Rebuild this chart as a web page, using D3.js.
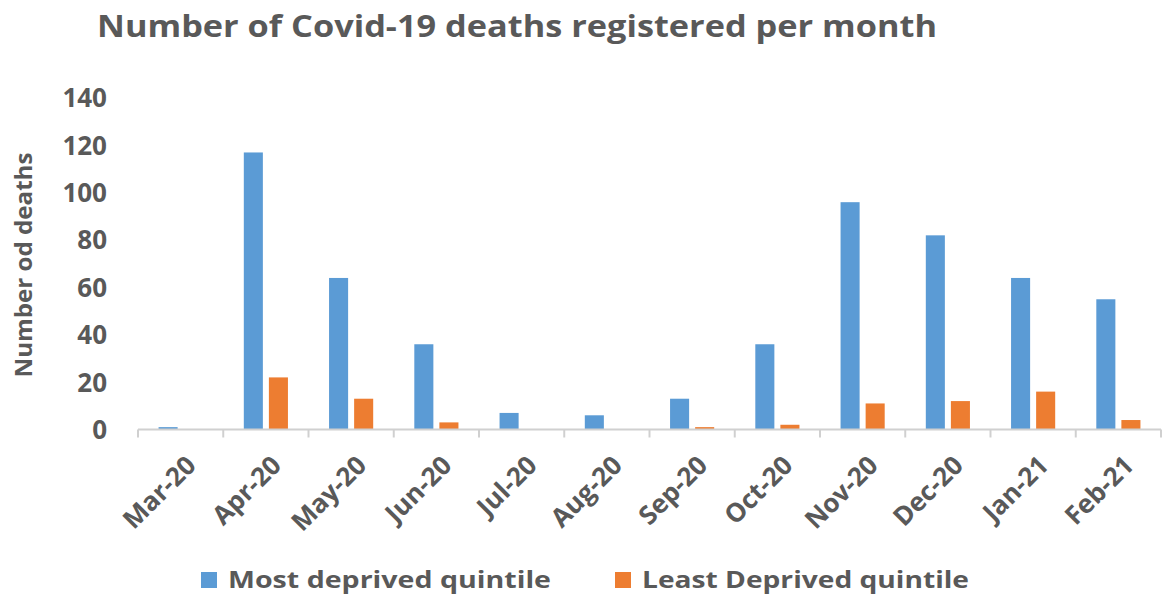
<!DOCTYPE html>
<html>
<head>
<meta charset="utf-8">
<script src="https://cdn.jsdelivr.net/npm/d3@7"></script>
<style>
  body { margin: 0; background: #fff; }
  text { font-family: "Open Sans", "Liberation Sans", sans-serif; font-weight: bold; fill: #595959; }
</style>
</head>
<body>
<svg></svg>
<script>
var width = 1166, height = 598;

// data
var months = ["Mar-20", "Apr-20", "May-20", "Jun-20", "Jul-20", "Aug-20",
              "Sep-20", "Oct-20", "Nov-20", "Dec-20", "Jan-21", "Feb-21"];
var mostDeprived  = [1, 117, 64, 36, 7, 6, 13, 36, 96, 82, 64, 55];
var leastDeprived = [0, 22, 13, 3, 0, 0, 1, 2, 11, 12, 16, 4];
var seriesNames = ["Most deprived quintile", "Least Deprived quintile"];
var colors = ["#5B9BD5", "#ED7D31"];
var yTicks = [0, 20, 40, 60, 80, 100, 120, 140];

var svg = d3.select("svg")
    .attr("width", width)
    .attr("height", height);

var x = d3.scaleBand()
    .domain(months)
    .range([138, 1161]);

var x1 = d3.scaleBand()
    .domain(seriesNames)
    .range([0, x.bandwidth()])
    .paddingInner(0.24)
    .paddingOuter(0.82);

var y = d3.scaleLinear()
    .domain([0, 140])
    .range([429.5, 98]);

// title
svg.append("text")
    .attr("x", 97)
    .attr("y", 37)
    .attr("font-size", 30)
    .attr("textLength", 840)
    .attr("lengthAdjust", "spacingAndGlyphs")
    .text("Number of Covid-19 deaths registered per month");

// y axis labels
svg.append("g")
    .selectAll("text")
    .data(yTicks)
    .join("text")
    .attr("x", 107)
    .attr("y", d => y(d))
    .attr("dy", "0.36em")
    .attr("text-anchor", "end")
    .attr("font-size", 26)
    .text(d => d);

svg.append("text")
    .attr("transform", "translate(32,265) rotate(-90)")
    .attr("text-anchor", "middle")
    .attr("font-size", 23)
    .attr("textLength", 225)
    .attr("lengthAdjust", "spacingAndGlyphs")
    .text("Number od deaths");

// bars
var rows = months.map((m, i) => ({month: m, values: [mostDeprived[i], leastDeprived[i]]}));

var group = svg.append("g")
    .selectAll("g")
    .data(rows)
    .join("g")
    .attr("transform", d => "translate(" + x(d.month) + ",0)");

group.selectAll("rect")
    .data(d => d.values.map((v, k) => ({key: seriesNames[k], value: v, color: colors[k]})))
    .join("rect")
    .attr("x", d => x1(d.key))
    .attr("width", x1.bandwidth())
    .attr("y", d => y(d.value))
    .attr("height", d => y(0) - y(d.value))
    .attr("fill", d => d.color);

// x axis line with tick marks between categories
var axis = svg.append("g");
axis.append("line")
    .attr("x1", 138).attr("x2", 1161)
    .attr("y1", y(0)).attr("y2", y(0))
    .attr("stroke", "#D0D0D0")
    .attr("stroke-width", 2);

var bounds = months.map(m => x(m)).concat([x.range()[1]]);
axis.selectAll(".tick")
    .data(bounds)
    .join("line")
    .attr("class", "tick")
    .attr("x1", d => d).attr("x2", d => d)
    .attr("y1", y(0)).attr("y2", y(0) + 8)
    .attr("stroke", "#D0D0D0")
    .attr("stroke-width", 2);

axis.selectAll(".lbl")
    .data(months)
    .join("text")
    .attr("class", "lbl")
    .attr("text-anchor", "end")
    .attr("font-size", 26)
    .attr("transform", d => "translate(" + (x(d) + x.bandwidth() / 2 + 4) + ",454) rotate(-45)")
    .attr("dy", "0.7em")
    .text(d => d);

// legend
var legendX = [201, 615];
var legend = svg.append("g")
    .selectAll("g")
    .data(seriesNames)
    .join("g")
    .attr("transform", (d, i) => "translate(" + legendX[i] + ",572)");

legend.append("rect")
    .attr("width", 16)
    .attr("height", 16)
    .attr("fill", (d, i) => colors[i]);

legend.append("text")
    .attr("x", 27)
    .attr("y", 8)
    .attr("dy", "0.36em")
    .attr("font-size", 23)
    .attr("textLength", (d, i) => [323, 327][i])
    .attr("lengthAdjust", "spacingAndGlyphs")
    .text(d => d);
</script>
</body>
</html>
